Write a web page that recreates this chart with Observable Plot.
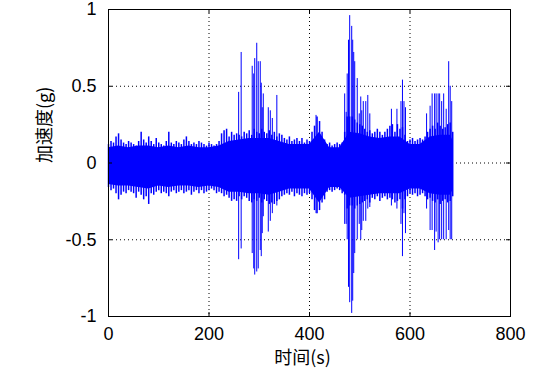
<!DOCTYPE html>
<html>
<head>
<meta charset="utf-8">
<script src="https://cdn.jsdelivr.net/npm/d3@7"></script>
<script src="https://cdn.jsdelivr.net/npm/@observablehq/plot@0.6"></script>
<style>
  html, body { margin: 0; padding: 0; background: #fff; }
</style>
</head>
<body>
<div id="chart"></div>
<script>
// ---- Data ----
const xLabel = "时间(s)";
const yLabel = "加速度(g)";
const xTicks = [0, 200, 400, 600, 800];
const yTicks = [-1, -0.5, 0, 0.5, 1];

// dense band envelope, sampled every 5 s
const bandT = [0,5,10,15,20,25,30,35,40,45,50,55,60,65,70,75,80,85,90,95,
  100,105,110,115,120,125,130,135,140,145,150,155,160,165,170,175,180,185,190,195,
  200,205,210,215,220,225,230,235,240,245,250,255,260,265,270,275,280,285,290,295,
  300,305,310,315,320,325,330,335,340,345,350,355,360,365,370,375,380,385,390,395,
  400,405,410,415,420,425,430,435,440,445,450,455,460,465,470,475,480,485,490,495,
  500,505,510,515,520,525,530,535,540,545,550,555,560,565,570,575,580,585,590,595,
  600,605,610,615,620,625,630,635,640,645,650,655,660,665,670,675,680,685];
const bandHi = [0.12,0.14,0.13,0.17,0.19,0.15,0.13,0.12,0.14,0.13,0.12,0.11,0.14,0.20,0.15,0.13,0.17,0.14,0.12,0.16,
  0.13,0.12,0.11,0.14,0.20,0.13,0.12,0.14,0.13,0.12,0.15,0.17,0.14,0.12,0.13,0.12,0.14,0.13,0.12,0.11,
  0.13,0.12,0.11,0.12,0.14,0.19,0.21,0.22,0.17,0.20,0.18,0.19,0.18,0.17,0.20,0.19,0.21,0.18,0.22,0.20,
  0.19,0.22,0.20,0.19,0.21,0.18,0.20,0.17,0.19,0.18,0.16,0.15,0.17,0.14,0.15,0.16,0.14,0.16,0.13,0.15,
  0.14,0.20,0.24,0.30,0.27,0.20,0.15,0.12,0.13,0.11,0.12,0.13,0.12,0.13,0.20,0.30,0.30,0.30,0.28,0.26,
  0.25,0.24,0.22,0.20,0.21,0.19,0.20,0.22,0.20,0.18,0.20,0.22,0.24,0.25,0.20,0.25,0.22,0.23,0.18,0.14,
  0.15,0.16,0.14,0.15,0.16,0.15,0.17,0.20,0.22,0.24,0.22,0.26,0.24,0.22,0.23,0.25,0.26,0.20];
const bandLo = [-0.16,-0.18,-0.17,-0.20,-0.24,-0.21,-0.19,-0.20,-0.18,-0.19,-0.20,-0.23,-0.19,-0.21,-0.24,-0.22,-0.27,-0.20,-0.21,-0.19,
  -0.18,-0.20,-0.19,-0.20,-0.22,-0.19,-0.18,-0.20,-0.19,-0.18,-0.20,-0.19,-0.18,-0.21,-0.19,-0.18,-0.20,-0.18,-0.20,-0.19,
  -0.18,-0.17,-0.18,-0.20,-0.19,-0.20,-0.22,-0.21,-0.23,-0.25,-0.24,-0.25,-0.22,-0.24,-0.22,-0.23,-0.25,-0.26,-0.24,-0.25,
  -0.23,-0.26,-0.24,-0.25,-0.27,-0.26,-0.27,-0.25,-0.24,-0.22,-0.21,-0.20,-0.21,-0.19,-0.22,-0.20,-0.21,-0.22,-0.20,-0.21,
  -0.20,-0.24,-0.31,-0.33,-0.31,-0.26,-0.24,-0.19,-0.18,-0.19,-0.18,-0.17,-0.18,-0.20,-0.21,-0.30,-0.28,-0.28,-0.30,-0.28,
  -0.27,-0.26,-0.25,-0.24,-0.26,-0.23,-0.24,-0.22,-0.25,-0.23,-0.22,-0.24,-0.23,-0.24,-0.26,-0.25,-0.24,-0.30,-0.24,-0.22,
  -0.20,-0.21,-0.20,-0.22,-0.21,-0.20,-0.22,-0.24,-0.23,-0.25,-0.26,-0.24,-0.27,-0.25,-0.24,-0.26,-0.25,-0.22];

// solid core of the band, every 20 s
const coreT  = [0,20,40,60,80,100,120,140,160,180,200,220,240,260,280,300,320,340,360,380,400,420,440,460,480,500,520,540,560,580,600,620,640,660,680,685];
const coreHi = [0.10,0.11,0.10,0.11,0.11,0.10,0.11,0.10,0.11,0.10,0.10,0.11,0.14,0.15,0.16,0.16,0.16,0.14,0.12,0.12,0.12,0.20,0.10,0.10,0.20,0.19,0.17,0.16,0.17,0.17,0.12,0.12,0.17,0.18,0.18,0.15];
const coreLo = [-0.14,-0.15,-0.15,-0.16,-0.17,-0.15,-0.16,-0.15,-0.15,-0.16,-0.15,-0.16,-0.19,-0.19,-0.20,-0.20,-0.21,-0.19,-0.17,-0.17,-0.17,-0.26,-0.16,-0.16,-0.23,-0.22,-0.21,-0.20,-0.20,-0.20,-0.17,-0.17,-0.20,-0.21,-0.21,-0.18];

// individual large excursions
const spikeT  = [259,264,286,289,291,295,298,302,304,306,308,318,322,326,335,413,470,473,475,477.6,480,484,486,488,490,495,499,502,504,507,512,516,520,563,574,582,585,588,591,633,640,644,649,652,656,659,663,667,672,677,680,683];
const spikeHi = [0.46,0.72,0.63,0.58,0.68,0.78,0.66,0.66,0.52,0.36,0.45,0.36,0.34,0.29,0.44,0.31,0.45,0.33,0.58,0.80,0.96,0.89,0.80,0.72,0.66,0.55,0.32,0.43,0.34,0.40,0.40,0.44,0.32,0.35,0.35,0.40,0.54,0.40,0.36,0.32,0.37,0.45,0.45,0.45,0.45,0.45,0.40,0.45,0.35,0.66,0.50,0.40];
const spikeLo = [-0.63,-0.56,-0.59,-0.69,-0.73,-0.71,-0.69,-0.57,-0.61,-0.46,-0.35,-0.45,-0.38,-0.33,-0.28,-0.33,-0.40,-0.40,-0.50,-0.81,-0.91,-0.98,-0.90,-0.72,-0.59,-0.50,-0.40,-0.50,-0.44,-0.38,-0.38,-0.30,-0.29,-0.28,-0.30,-0.40,-0.61,-0.33,-0.46,-0.30,-0.44,-0.44,-0.57,-0.45,-0.52,-0.50,-0.50,-0.50,-0.50,-0.44,-0.50,-0.50];

// ---- build tables ----
const band = bandT.map((t, i) => ({t, hi: bandHi[i], lo: bandLo[i]}));
const core = coreT.map((t, i) => ({t, hi: coreHi[i], lo: coreLo[i]}));
const spikes = spikeT.map((t, i) => ({t, hi: spikeHi[i], lo: spikeLo[i]}));

const W = 540, H = 379, mL = 108, mR = 30, mT = 9, mB = 63;
const innerW = W - mL - mR, innerH = H - mT - mB;
const tick = 4;
const blue = "#0000ff";
const fmt = d => String(d);

const chart = Plot.plot({
  width: W, height: H,
  marginLeft: mL, marginRight: mR, marginTop: mT, marginBottom: mB,
  x: {domain: [0, 800], axis: null},
  y: {domain: [-1, 1], axis: null},
  style: {fontFamily: "'Liberation Sans', Arial, 'Noto Sans CJK SC', sans-serif", fontSize: "18px", background: "#fff", color: "#000"},
  marks: [
    Plot.ruleX(xTicks.filter(d => d > 0 && d < 800), {x: d => d, stroke: "#000", strokeDasharray: "1,3"}),
    Plot.ruleY(yTicks.filter(d => d > -1 && d < 1), {y: d => d, stroke: "#000", strokeDasharray: "1,3"}),
    Plot.areaY(core, {x: "t", y1: "lo", y2: "hi", fill: blue}),
    Plot.ruleX(band, {x: "t", y1: "lo", y2: "hi", stroke: blue, strokeWidth: 1.5}),
    Plot.ruleX(spikes, {x: "t", y1: "lo", y2: "hi", stroke: blue, strokeWidth: 1}),
    Plot.frame({stroke: "#000"}),
    // inward ticks on all four sides
    Plot.ruleX(xTicks, {x: d => d, stroke: "#000", insetTop: innerH - tick}),
    Plot.ruleX(xTicks, {x: d => d, stroke: "#000", insetBottom: innerH - tick}),
    Plot.ruleY(yTicks, {y: d => d, stroke: "#000", insetRight: innerW - tick}),
    Plot.ruleY(yTicks, {y: d => d, stroke: "#000", insetLeft: innerW - tick}),
    // tick labels
    Plot.text(xTicks, {x: d => d, frameAnchor: "bottom", lineAnchor: "top", dy: 11, text: fmt, fill: "#000"}),
    Plot.text(yTicks, {y: d => d, frameAnchor: "left", textAnchor: "end", dx: -12, text: fmt, fill: "#000"}),
    // axis titles
    Plot.text([xLabel], {frameAnchor: "bottom", lineAnchor: "top", dy: 35, dx: -7, text: d => d, fill: "#000",
      fontFamily: "'Noto Sans CJK SC', 'Liberation Sans', sans-serif"}),
    Plot.text([yLabel], {frameAnchor: "left", rotate: -90, dx: -63, text: d => d, fill: "#000",
      fontFamily: "'Noto Sans CJK SC', 'Liberation Sans', sans-serif"})
  ]
});
document.getElementById("chart").appendChild(chart);
</script>
</body>
</html>
